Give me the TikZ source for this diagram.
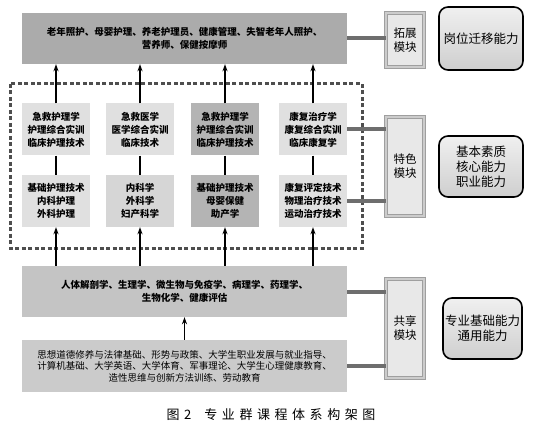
\documentclass[tikz,border=0pt]{standalone}
\usepackage{fontspec}
\setmainfont{Noto Sans CJK SC}
\newfontfamily\capfont[LetterSpace=35]{Noto Sans CJK SC}
\definecolor{cTop}{HTML}{ABABAB}
\definecolor{cLight}{HTML}{E0E0E0}
\definecolor{cMid}{HTML}{D6D6D6}
\definecolor{cDark}{HTML}{B4B4B4}
\definecolor{cShared}{HTML}{C4C4C4}
\definecolor{cBase}{HTML}{CBCBCB}
\definecolor{cBar}{HTML}{6E6E6E}
\definecolor{cFrame}{HTML}{4E4E4E}
\usetikzlibrary{arrows.meta}

\begin{document}
\begin{tikzpicture}[x=1pt,y=-1pt,
  wide/.style={minimum width=325pt, minimum height=51pt, align=center, inner sep=0pt, font=\fontsize{9.5}{13}\selectfont\bfseries},
  course/.style={minimum width=68pt, minimum height=52pt, align=center, inner sep=0pt, font=\fontsize{9.5}{13}\selectfont\bfseries},
  modbox/.style={draw=gray!75, line width=0.7pt, double=gray!40, double distance=2.2pt, fill=gray!18, minimum width=38pt, align=center, inner sep=0pt, font=\fontsize{11.5}{14}\selectfont},
  ability/.style={draw=black, line width=1.6pt, rounded corners=9pt, top color=gray!12, bottom color=gray!38, align=center, inner sep=0pt, font=\fontsize{12.5}{15}\selectfont},
  arr/.style={-{Stealth[length=7pt,width=5pt]}, line width=1.6pt, black},
  link/.style={line width=1.6pt, black},
  bar/.style={line width=4pt, cBar},
  frame/.style={line width=3pt, cFrame, dash pattern=on 4pt off 2.5pt}]
\useasboundingbox (0,0) rectangle (537,438);
% output and bottom rows
\node[wide, fill=cTop] (top) at (184.5,38.5) {老年照护、母婴护理、养老护理员、健康管理、失智老年人照护、\\营养师、保健按摩师};
\node[wide, fill=cShared] (shared) at (184.5,291.5) {人体解剖学、生理学、微生物与免疫学、病理学、药理学、\\生物化学、健康评估};
\node[wide, fill=cBase, minimum height=52pt, font=\fontsize{9.5}{11.5}\selectfont] (base) at (184.5,366) {思想道德修养与法律基础、形势与政策、大学生职业发展与就业指导、\\计算机基础、大学英语、大学体育、军事理论、大学生心理健康教育、\\造性思维与创新方法训练、劳动教育};
% special module courses
\node[course, fill=cLight] (ua) at (56,129.5) {急救护理学\\护理综合实训\\临床护理技术};
\node[course, fill=cLight] (ub) at (140,129.5) {急救医学\\医学综合实训\\临床技术};
\node[course, fill=cDark] (uc) at (225,129.5) {急救护理学\\护理综合实训\\临床护理技术};
\node[course, fill=cLight] (ud) at (313,129.5) {康复治疗学\\康复综合实训\\临床康复学};
\node[course, fill=cLight] (la) at (56,201) {基础护理技术\\内科护理\\外科护理};
\node[course, fill=cMid] (lb) at (140,201) {内科学\\外科学\\妇产科学};
\node[course, fill=cDark] (lc) at (225,201) {基础护理技术\\母婴保健\\助产学};
\node[course, fill=cLight] (ld) at (313,201) {康复评定技术\\物理治疗技术\\运动治疗技术};
\draw[frame] (10,84) rectangle (362,248);
% modules and abilities
\node[modbox, minimum height=54pt] (ext) at (405,40) {拓展\\模块};
\node[modbox, minimum height=99pt] (feat) at (405,166.5) {特色\\模块};
\node[modbox, minimum height=99pt] (share) at (405,328.5) {共享\\模块};
\node[ability, minimum width=84pt, minimum height=63pt] (job) at (481,38.5) {岗位迁移能力};
\node[ability, minimum width=84pt, minimum height=61pt] (core) at (481,166.5) {基本素质\\核心能力\\职业能力};
\node[ability, minimum width=79pt, minimum height=61pt] (gen) at (482.5,328.5) {专业基础能力\\通用能力};
\foreach \u/\l in {ua/la,ub/lb,uc/lc,ud/ld}{
  \draw[arr] (\u.north) -- (\u.north |- top.south);
  \draw[link] (\u) -- (\l);
  \draw[arr] (\l.south |- shared.north) -- (\l.south);
}
\draw[arr] (base.north) -- (shared.south);
\draw[bar] (top.east) -- (top.east -| ext.west); \draw[bar] (ud.east) -- (ud.east -| feat.west); \draw[bar] (ld.east) -- (ld.east -| feat.west);
\draw[bar] (shared.east) -- (shared.east -| share.west); \draw[bar] (base.east) -- (base.east -| share.west);
\node[font=\fontsize{13}{15}\selectfont] (cap) at (271,415) {\capfont 图2\quad 专业群课程体系构架图};
\end{tikzpicture}
\end{document}
